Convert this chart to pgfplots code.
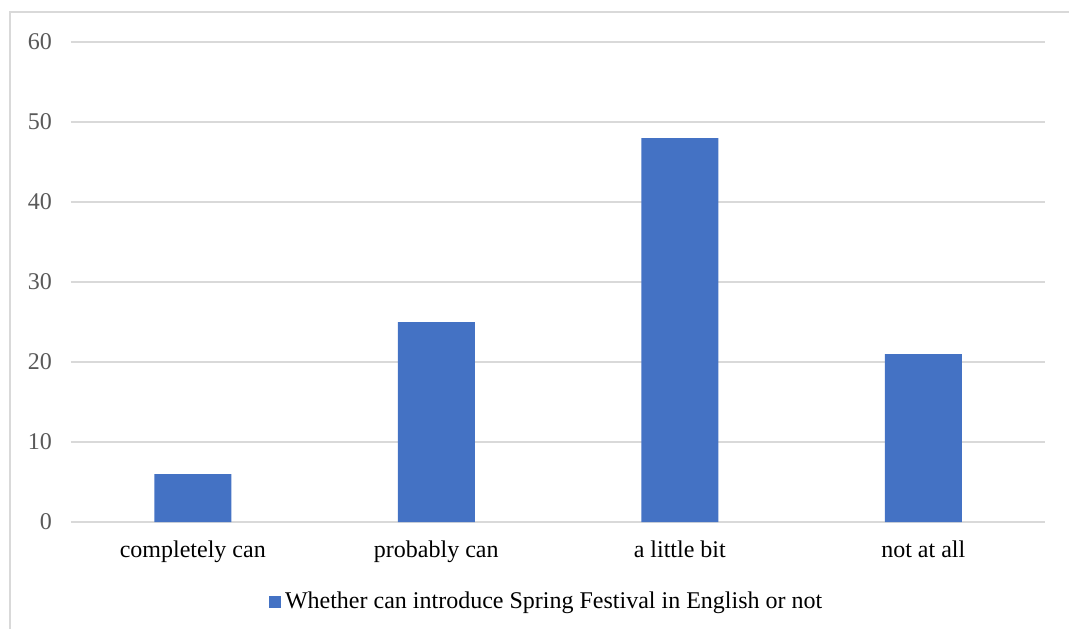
\documentclass[border=0pt]{standalone}
\usepackage{fontspec}
\setmainfont{Liberation Serif}
\usepackage{pgfplots}
\pgfplotsset{compat=1.18}
\definecolor{barblue}{HTML}{4472C4}
\definecolor{gridgray}{HTML}{D9D9D9}
\definecolor{ticklabelgray}{HTML}{595959}

\begin{document}
\begin{tikzpicture}
% page extent
\useasboundingbox (-35.5pt,-53pt) rectangle (499pt,261pt);
% chart frame (left and top edges)
\draw[gridgray, line width=0.75pt] (-30.5pt,-60pt) -- (-30.5pt,255pt) -- (510pt,255pt);
\begin{axis}[
  at={(0,0)}, anchor=south west,
  scale only axis, width=487pt, height=240pt,
  xmin=-0.5, xmax=3.5, ymin=0, ymax=60,
  enlargelimits=false,
  ybar, bar width=38.5pt, bar shift=0pt,
  xtick={0,1,2,3},
  xticklabels={completely can, probably can, a little bit, not at all},
  ytick={0,10,...,60},
  axis line style={draw=none},
  major tick length=0pt,
  ymajorgrids,
  grid style={gridgray, line width=0.75pt},
  tick label style={font=\fontsize{12pt}{14pt}\selectfont},
  yticklabel style={text=ticklabelgray, xshift=-6pt},
  xticklabel style={yshift=-6pt},
  /pgf/number format/assume math mode=true,
  legend style={draw=none, fill=none, at={(0.2033,-0.1667)}, anchor=west,
    inner sep=0pt, outer sep=0pt,
    font=\fontsize{12pt}{14pt}\selectfont},
  legend image code/.code={\fill[#1] (0pt,-3pt) rectangle (6pt,3pt);},
]
\addplot[fill=barblue, draw=none] coordinates {(0,6) (1,25) (2,48) (3,21)};
\addlegendentry{Whether can introduce Spring Festival in English or not}
\end{axis}
\end{tikzpicture}
\end{document}
